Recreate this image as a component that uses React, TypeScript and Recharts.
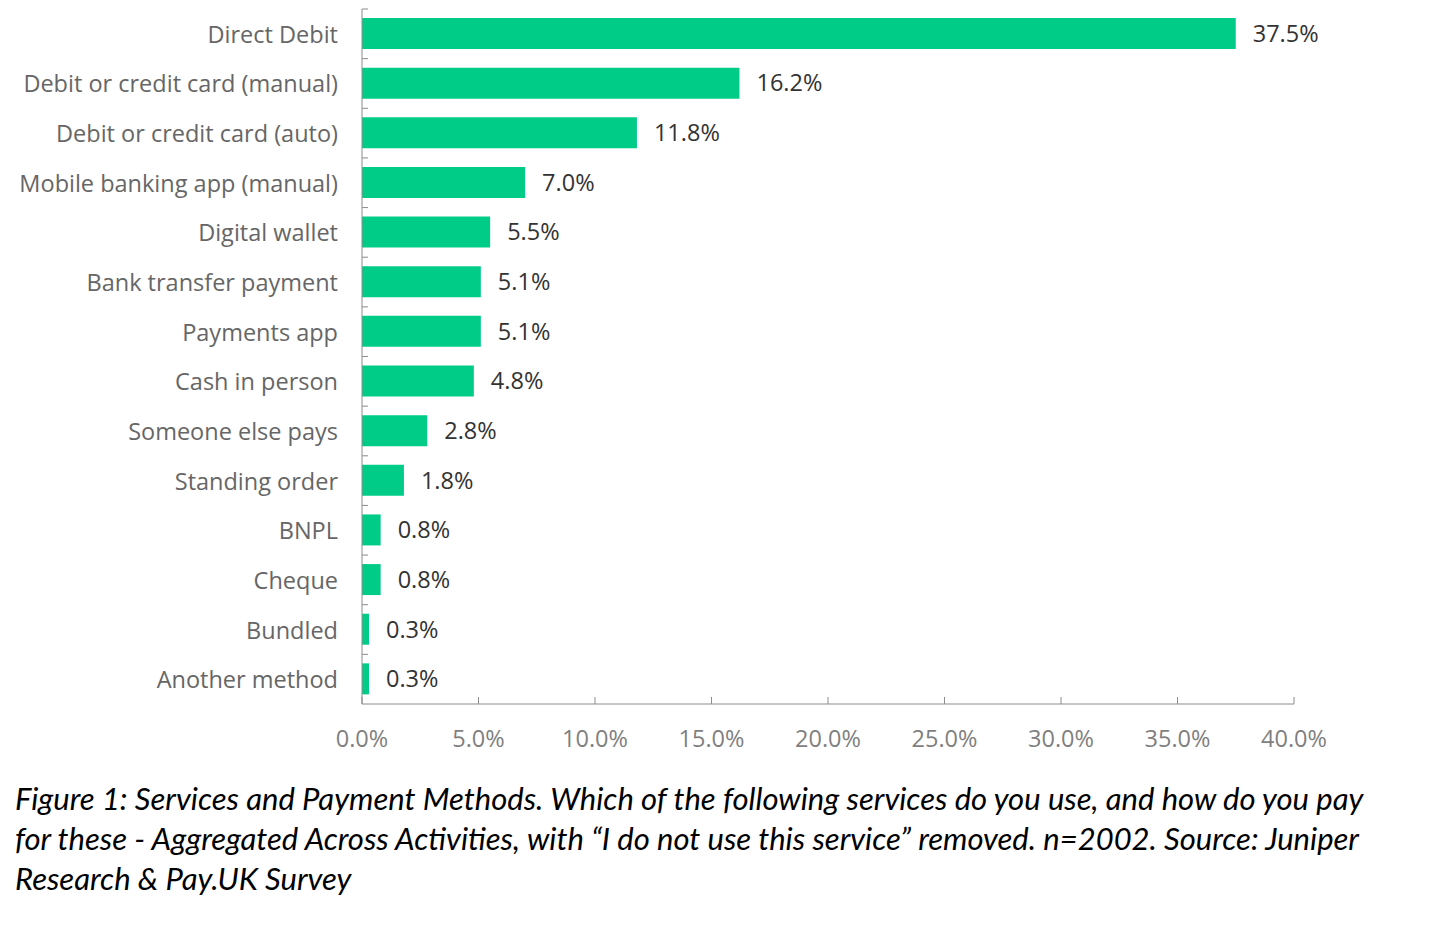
import React from "react";
import { Bar, BarChart, LabelList, XAxis, YAxis } from "recharts";

const categories = [
  "Direct Debit",
  "Debit or credit card (manual)",
  "Debit or credit card (auto)",
  "Mobile banking app (manual)",
  "Digital wallet",
  "Bank transfer payment",
  "Payments app",
  "Cash in person",
  "Someone else pays",
  "Standing order",
  "BNPL",
  "Cheque",
  "Bundled",
  "Another method",
];

const shares = [37.5, 16.2, 11.8, 7.0, 5.5, 5.1, 5.1, 4.8, 2.8, 1.8, 0.8, 0.8, 0.3, 0.3];

const xTicks = [0, 5, 10, 15, 20, 25, 30, 35, 40];

const data = categories.map((name, i) => ({ name, value: shares[i] }));

const pct = (v: number) => `${Number(v).toFixed(1)}%`;

const axisGrey = "#8c8c8c";
const labelFont = "'Open Sans', sans-serif";
const fs = 23.5;
const gap = 24;

// category label plus the small inward tick at the top edge of each band
const CategoryTick = (props: any) => {
  const { x, y, payload } = props;
  const half = payload?.offset ?? 0;
  const axisX = x + gap;
  return (
    <g>
      <line x1={axisX} x2={axisX + 6} y1={y - half} y2={y - half} stroke={axisGrey} strokeWidth={1} />
      <text
        x={x}
        y={y}
        textAnchor="end"
        dominantBaseline="central"
        fontSize={fs}
        fill="#666666"
        fontFamily={labelFont}
      >
        {payload.value}
      </text>
    </g>
  );
};

export default function App() {
  return (
    <div style={{ width: 1434, fontFamily: labelFont }}>
      <BarChart
        width={1420}
        height={762}
        data={data}
        layout="vertical"
        margin={{ top: 1, right: 134, left: 0, bottom: 0 }}
      >
        <XAxis
          type="number"
          domain={[0, 40]}
          ticks={xTicks}
          tickFormatter={pct}
          stroke={axisGrey}
          tickSize={-7}
          tickMargin={33}
          height={66}
          tick={{ fontSize: fs, fill: "#7f7f7f", fontFamily: labelFont }}
        />
        <YAxis
          type="category"
          dataKey="name"
          width={354}
          stroke={axisGrey}
          tickLine={false}
          tickSize={0}
          tickMargin={gap}
          tick={CategoryTick}
        />
        <Bar dataKey="value" fill="#00cc88" barSize={31} isAnimationActive={false}>
          <LabelList
            dataKey="value"
            position="right"
            offset={17}
            formatter={(v: any) => pct(v)}
            style={{ fontSize: fs, fill: "#333333", fontFamily: labelFont }}
          />
        </Bar>
      </BarChart>
      <div
        style={{
          fontFamily: "Lato, sans-serif",
          fontStyle: "italic",
          fontSize: 31,
          lineHeight: "40px",
          color: "#000",
          marginLeft: 7,
          marginTop: 8,
          width: 1420,
          whiteSpace: "nowrap",
        }}
      >
        Figure 1: Services and Payment Methods. Which of the following services do you use, and how do you pay
        <br />
        for these - Aggregated Across Activities, with “I do not use this service” removed. n=2002. Source: Juniper
        <br />
        Research &amp; Pay.UK Survey
      </div>
    </div>
  );
}
